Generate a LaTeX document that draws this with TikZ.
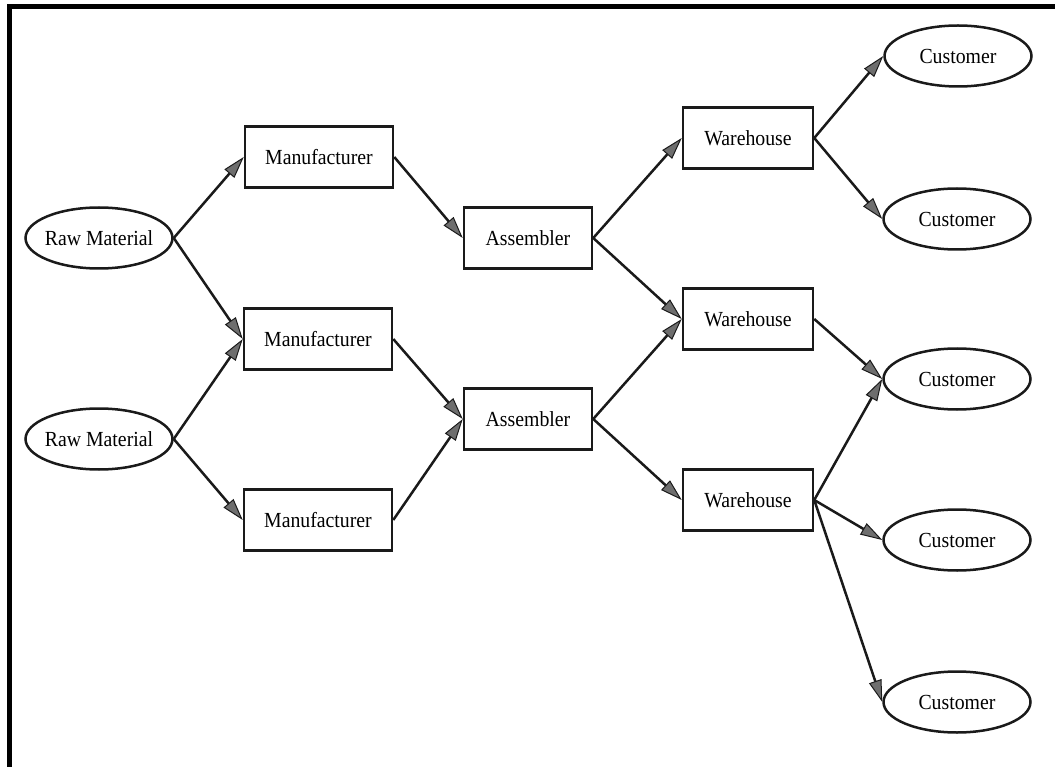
\documentclass[tikz,border=0pt]{standalone}
\usepackage{fontspec}
\setmainfont{Liberation Serif}
\newfontfamily\labelfamily{Liberation Serif}[FakeStretch=0.92]
\usetikzlibrary{arrows.meta,shapes.geometric}
\definecolor{ink}{HTML}{1A1A1A}
\definecolor{tipgray}{HTML}{6E6E6E}
\begin{document}
\begin{tikzpicture}[x=1pt,y=-1pt,
  label font/.style={font=\labelfamily\fontsize{21.5}{25}\selectfont},
  stage/.style={draw=ink, line width=2.5pt, inner sep=0pt, minimum height=61pt, label font},
  oval/.style={ellipse, draw=ink, line width=2.5pt, inner sep=0pt, minimum width=147pt, minimum height=61pt, label font},
  flow/.style={draw=ink, line width=2.5pt, -{Triangle[length=22pt,width=13pt,line width=1pt,fill=tipgray]}}]

\useasboundingbox (0,0) rectangle (1055,767);

% border along the top and left edges
\draw[line width=4.5pt, line join=miter] (9.5,767) -- (9.5,6.5) -- (1055,6.5);

% sources
\node[oval] (rm1) at (99,238) {\makebox[0pt]{Raw Material}};
\node[oval] (rm2) at (99,439) {\makebox[0pt]{Raw Material}};

% manufacturers
\node[stage, minimum width=148pt] (m1) at (319,157) {Manufacturer};
\node[stage, minimum width=148pt] (m2) at (318,339) {Manufacturer};
\node[stage, minimum width=148pt] (m3) at (318,520) {Manufacturer};

% assemblers
\node[stage, minimum width=128pt] (a1) at (528,238) {Assembler};
\node[stage, minimum width=128pt] (a2) at (528,419) {Assembler};

% warehouses
\node[stage, minimum width=130pt] (w1) at (748,138) {Warehouse};
\node[stage, minimum width=130pt] (w2) at (748,319) {Warehouse};
\node[stage, minimum width=130pt] (w3) at (748,500) {Warehouse};

% customers
\node[oval] (c1) at (958,56) {\makebox[0pt]{Customer}};
\node[oval] (c2) at (957,219) {\makebox[0pt]{Customer}};
\node[oval] (c3) at (957,379) {\makebox[0pt]{Customer}};
\node[oval] (c4) at (957,540) {\makebox[0pt]{Customer}};
\node[oval] (c5) at (957,702) {\makebox[0pt]{Customer}};

% material flow
\draw[flow] (rm1.east) -- (m1.west);
\draw[flow] (rm1.east) -- (m2.west);
\draw[flow] (rm2.east) -- (m2.west);
\draw[flow] (rm2.east) -- (m3.west);

\draw[flow] (m1.east) -- (a1.west);
\draw[flow] (m2.east) -- (a2.west);
\draw[flow] (m3.east) -- (a2.west);

\draw[flow] (a1.east) -- (w1.west);
\draw[flow] (a1.east) -- (w2.west);
\draw[flow] (a2.east) -- (w2.west);
\draw[flow] (a2.east) -- (w3.west);

\draw[flow] (w1.east) -- (c1.west);
\draw[flow] (w1.east) -- (c2.west);
\draw[flow] (w2.east) -- (c3.west);
\draw[flow] (w3.east) -- (c3.west);
\draw[flow] (w3.east) -- (c4.west);
\draw[flow] (w3.east) -- (c5.west);
\end{tikzpicture}
\end{document}
